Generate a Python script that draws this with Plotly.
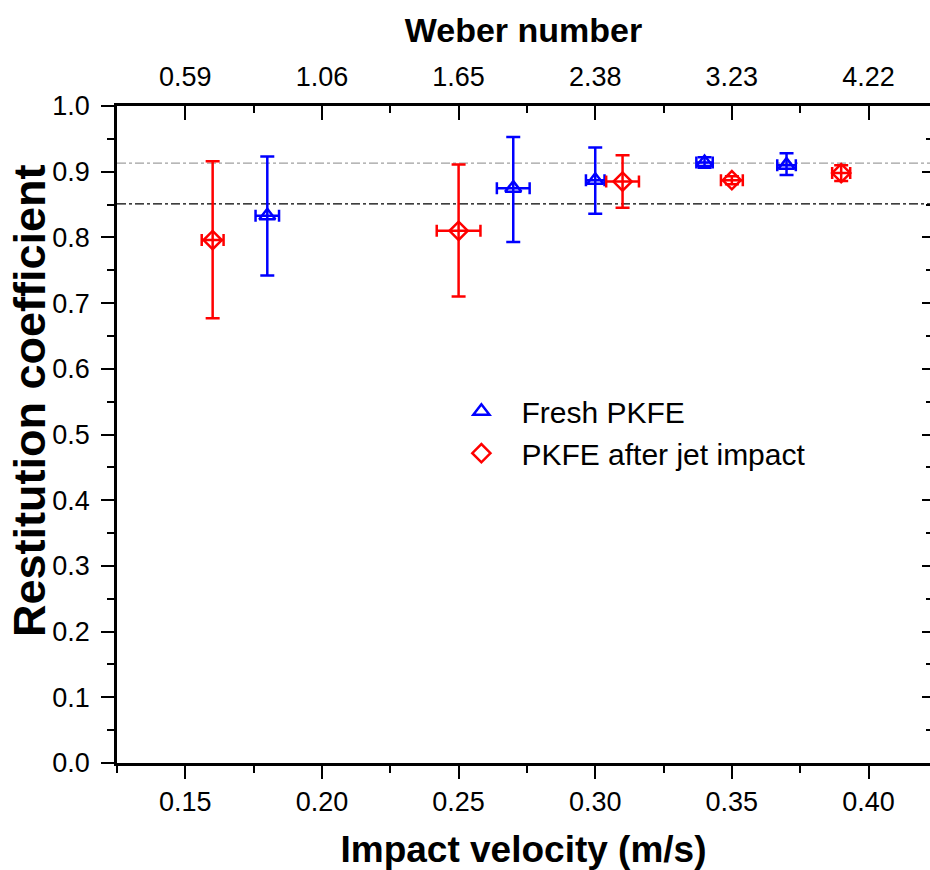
import plotly.graph_objects as go

# Fresh PKFE
fresh_v = [0.18, 0.27, 0.30, 0.34, 0.37]
fresh_v_err = [0.0043, 0.006, 0.0034, 0.003, 0.0034]
fresh_e = [0.833, 0.875, 0.887, 0.914, 0.910]
fresh_e_up = [0.090, 0.078, 0.050, 0.008, 0.018]
fresh_e_dn = [0.091, 0.082, 0.051, 0.008, 0.015]

# PKFE after jet impact
jet_v = [0.16, 0.25, 0.31, 0.35, 0.39]
jet_v_err = [0.004, 0.008, 0.006, 0.004, 0.0033]
jet_e = [0.796, 0.810, 0.885, 0.887, 0.898]
jet_e_up = [0.120, 0.101, 0.040, 0.006, 0.012]
jet_e_dn = [0.119, 0.100, 0.040, 0.006, 0.012]

# reference lines
ref_levels = [0.913, 0.851]
ref_colors = ["#a0a0a0", "#000000"]

# axis ticks
vel_ticks = [0.15, 0.20, 0.25, 0.30, 0.35, 0.40]
vel_labels = ["0.15", "0.20", "0.25", "0.30", "0.35", "0.40"]
weber_labels = ["0.59", "1.06", "1.65", "2.38", "3.23", "4.22"]

FONT = "Liberation Sans, Arial, sans-serif"
BLUE = "#0000ff"
RED = "#ff0000"

fig = go.Figure()

fig.add_trace(go.Scatter(
    x=fresh_v, y=fresh_e, mode="markers", name="Fresh PKFE",
    marker=dict(symbol="triangle-up-open", size=14, color=BLUE, line=dict(width=2.5, color=BLUE)),
    error_y=dict(type="data", array=fresh_e_up, arrayminus=fresh_e_dn, symmetric=False,
                 color=BLUE, thickness=2.5, width=7),
    error_x=dict(type="data", array=fresh_v_err, color=BLUE, thickness=2.5, width=6),
))
fig.add_trace(go.Scatter(
    x=jet_v, y=jet_e, mode="markers", name="PKFE after jet impact",
    marker=dict(symbol="diamond-open", size=14, color=RED, line=dict(width=2.5, color=RED)),
    error_y=dict(type="data", array=jet_e_up, arrayminus=jet_e_dn, symmetric=False,
                 color=RED, thickness=2.5, width=7),
    error_x=dict(type="data", array=jet_v_err, color=RED, thickness=2.5, width=6),
))

for lvl, col in zip(ref_levels, ref_colors):
    fig.add_shape(type="line", xref="paper", x0=0, x1=1, yref="y", y0=lvl, y1=lvl,
                  line=dict(color=col, width=1.2, dash="dashdot"), layer="below")

xrange = [0.125, 0.4225]
TICKFONT = dict(family=FONT, size=27, color="black")

fig.add_annotation(
    text="<b>Restitution coefficient</b>", textangle=-90,
    xref="paper", yref="paper", x=-0.107, y=0.551, xanchor="center", yanchor="middle",
    showarrow=False, font=dict(size=45, family=FONT, color="black"),
)

fig.update_layout(
    width=930, height=870,
    margin=dict(l=117, r=0, t=106, b=107, autoexpand=False),
    plot_bgcolor="white", paper_bgcolor="white",
    font=dict(family=FONT, size=26, color="black"),
    showlegend=True,
    legend=dict(x=0.399, y=0.575, xanchor="left", yanchor="top",
                font=dict(size=30, family=FONT), bgcolor="rgba(0,0,0,0)",
                itemwidth=70),
    xaxis=dict(
        range=xrange, tickvals=vel_ticks, ticktext=vel_labels, automargin=False,
        tickfont=TICKFONT,
        ticks="outside", ticklen=13, tickwidth=2, tickcolor="black",
        minor=dict(dtick=0.025, tick0=0.125, ticks="outside", ticklen=7, tickwidth=2, tickcolor="black"),
        showline=True, linewidth=2.5, linecolor="black", showgrid=False, zeroline=False,
        title=dict(text="<b>Impact velocity (m/s)</b>", font=dict(size=37, family=FONT), standoff=20),
    ),
    xaxis2=dict(
        range=xrange, overlaying="x", side="top", anchor="y", automargin=False,
        tickvals=vel_ticks, ticktext=weber_labels, tickfont=TICKFONT, ticklabelstandoff=6,
        ticks="inside", ticklen=14, tickwidth=2, tickcolor="black",
        minor=dict(dtick=0.025, tick0=0.125, ticks="inside", ticklen=7, tickwidth=2, tickcolor="black"),
        showline=True, linewidth=2.5, linecolor="black", showgrid=False, zeroline=False,
        title=dict(text="<b>Weber number</b>", font=dict(size=34, family=FONT), standoff=10),
    ),
    yaxis=dict(
        range=[0, 1], dtick=0.1, tick0=0, tickformat=".1f", automargin=False,
        tickfont=TICKFONT, ticklabelstandoff=6,
        ticks="outside", ticklen=13, tickwidth=2, tickcolor="black",
        minor=dict(dtick=0.05, ticks="outside", ticklen=7, tickwidth=2, tickcolor="black"),
        showline=True, linewidth=2.5, linecolor="black", showgrid=False, zeroline=False,
    ),
    yaxis2=dict(
        range=[0, 1], overlaying="y", side="right", anchor="x", automargin=False,
        dtick=0.1, tick0=0, showticklabels=False,
        ticks="inside", ticklen=8, tickwidth=2, tickcolor="black",
        minor=dict(dtick=0.05, ticks="inside", ticklen=4, tickwidth=2, tickcolor="black"),
        showline=False, showgrid=False, zeroline=False,
    ),
)

# invisible trace to activate top/right axes
fig.add_trace(go.Scatter(x=[None], y=[None], xaxis="x2", yaxis="y2", showlegend=False, hoverinfo="skip"))

fig.write_html("out.html", config={"displayModeBar": False},
               post_script="document.body.style.margin='0';document.body.style.overflow='hidden';")
